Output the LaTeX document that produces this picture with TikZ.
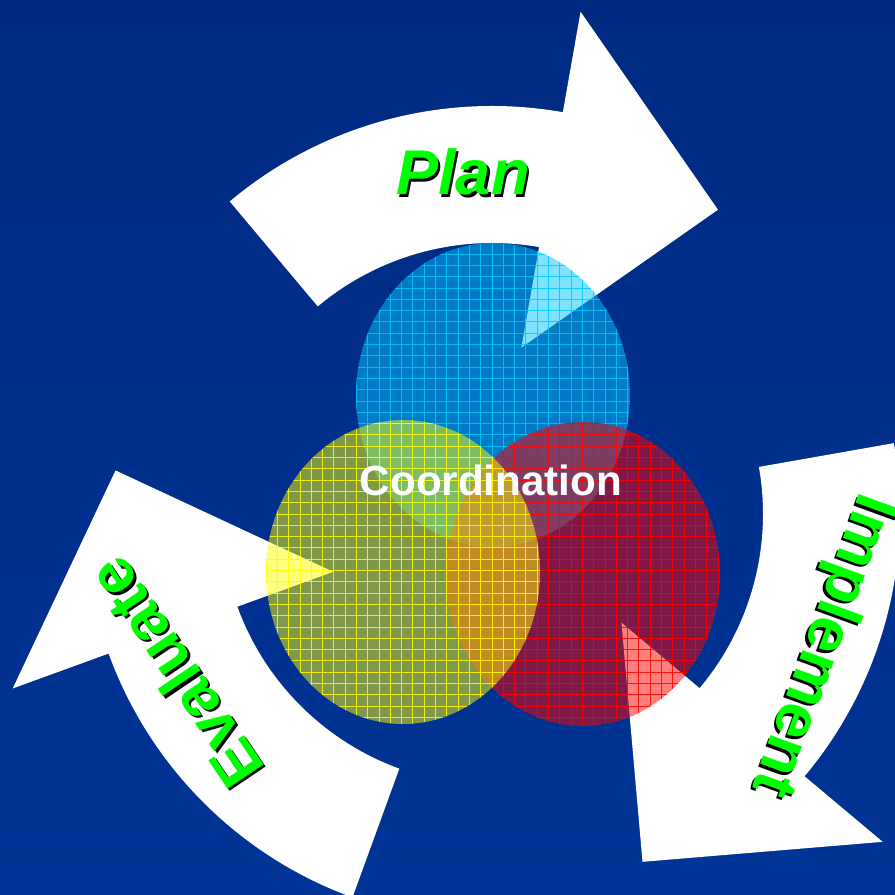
\documentclass[tikz,border=0pt]{standalone}
\usepackage{fontspec}
\setmainfont{Liberation Sans}
\usetikzlibrary{calc}
\usetikzlibrary{positioning}

\definecolor{bgtop}{RGB}{0,42,130}
\definecolor{bgbottom}{RGB}{0,52,150}
\definecolor{planblue}{RGB}{0,200,255}
\definecolor{evalyellow}{RGB}{255,255,0}
\definecolor{implred}{RGB}{255,0,0}
\definecolor{labelgreen}{RGB}{0,255,0}

\tikzset{
    steplabel/.style={font=\fontsize{36}{40}\selectfont\bfseries, text=labelgreen, inner sep=0pt},
    steplabelshadow/.style={font=\fontsize{36}{40}\selectfont\bfseries, text=black, inner sep=0pt},
    centrelabel/.style={font=\fontsize{24}{28}\selectfont\bfseries, text=white, inner sep=0pt}
}

\begin{document}
\begin{tikzpicture}[x=0.02cm, y=0.02cm]
    \shade[top color=bgtop, bottom color=bgbottom] (-492,-381) rectangle (403,514);
    \useasboundingbox (-492,-381) rectangle (403,514);
    \foreach \r in {0,-120,120} {
        \fill[white, rotate=\r] (130:408) arc[start angle=130, end angle=80, radius=408]
            -- (80:510) -- (53.4:379) -- (80:169) -- (80:271)
            arc[start angle=80, end angle=130, radius=271] -- cycle;
    }
    \foreach \cx/\cy/\col in {1/119/planblue, 91/-60/implred, -89/-58/evalyellow} {
        \fill[\col, opacity=0.5] (\cx,\cy) ellipse [x radius=137, y radius=152];
        \begin{scope}
            \clip (\cx,\cy) ellipse [x radius=137, y radius=152];
            \draw[\col, line width=0.5pt, opacity=0.85, step=0.226cm] (\cx-140,\cy-160) grid (\cx+140,\cy+160);
        \end{scope}
    }
    \foreach \name/\px/\py/\ang/\sx/\txt in {plan/-29/342/0/2.5/{\itshape Plan}, impl/330/-131/-110/-2.5/Implement, eval/-317/-159/124/2.5/Evaluate} {
        \node[steplabelshadow, rotate=\ang] (\name-shadow) at ($(\px,\py)+(\sx,-2.5)$) {\txt};
        \node[steplabel, rotate=\ang] (\name) at (\px,\py) {\txt};
    }
    \node[centrelabel] (coord) at (-1,34) {Coordination};
\end{tikzpicture}
\end{document}
